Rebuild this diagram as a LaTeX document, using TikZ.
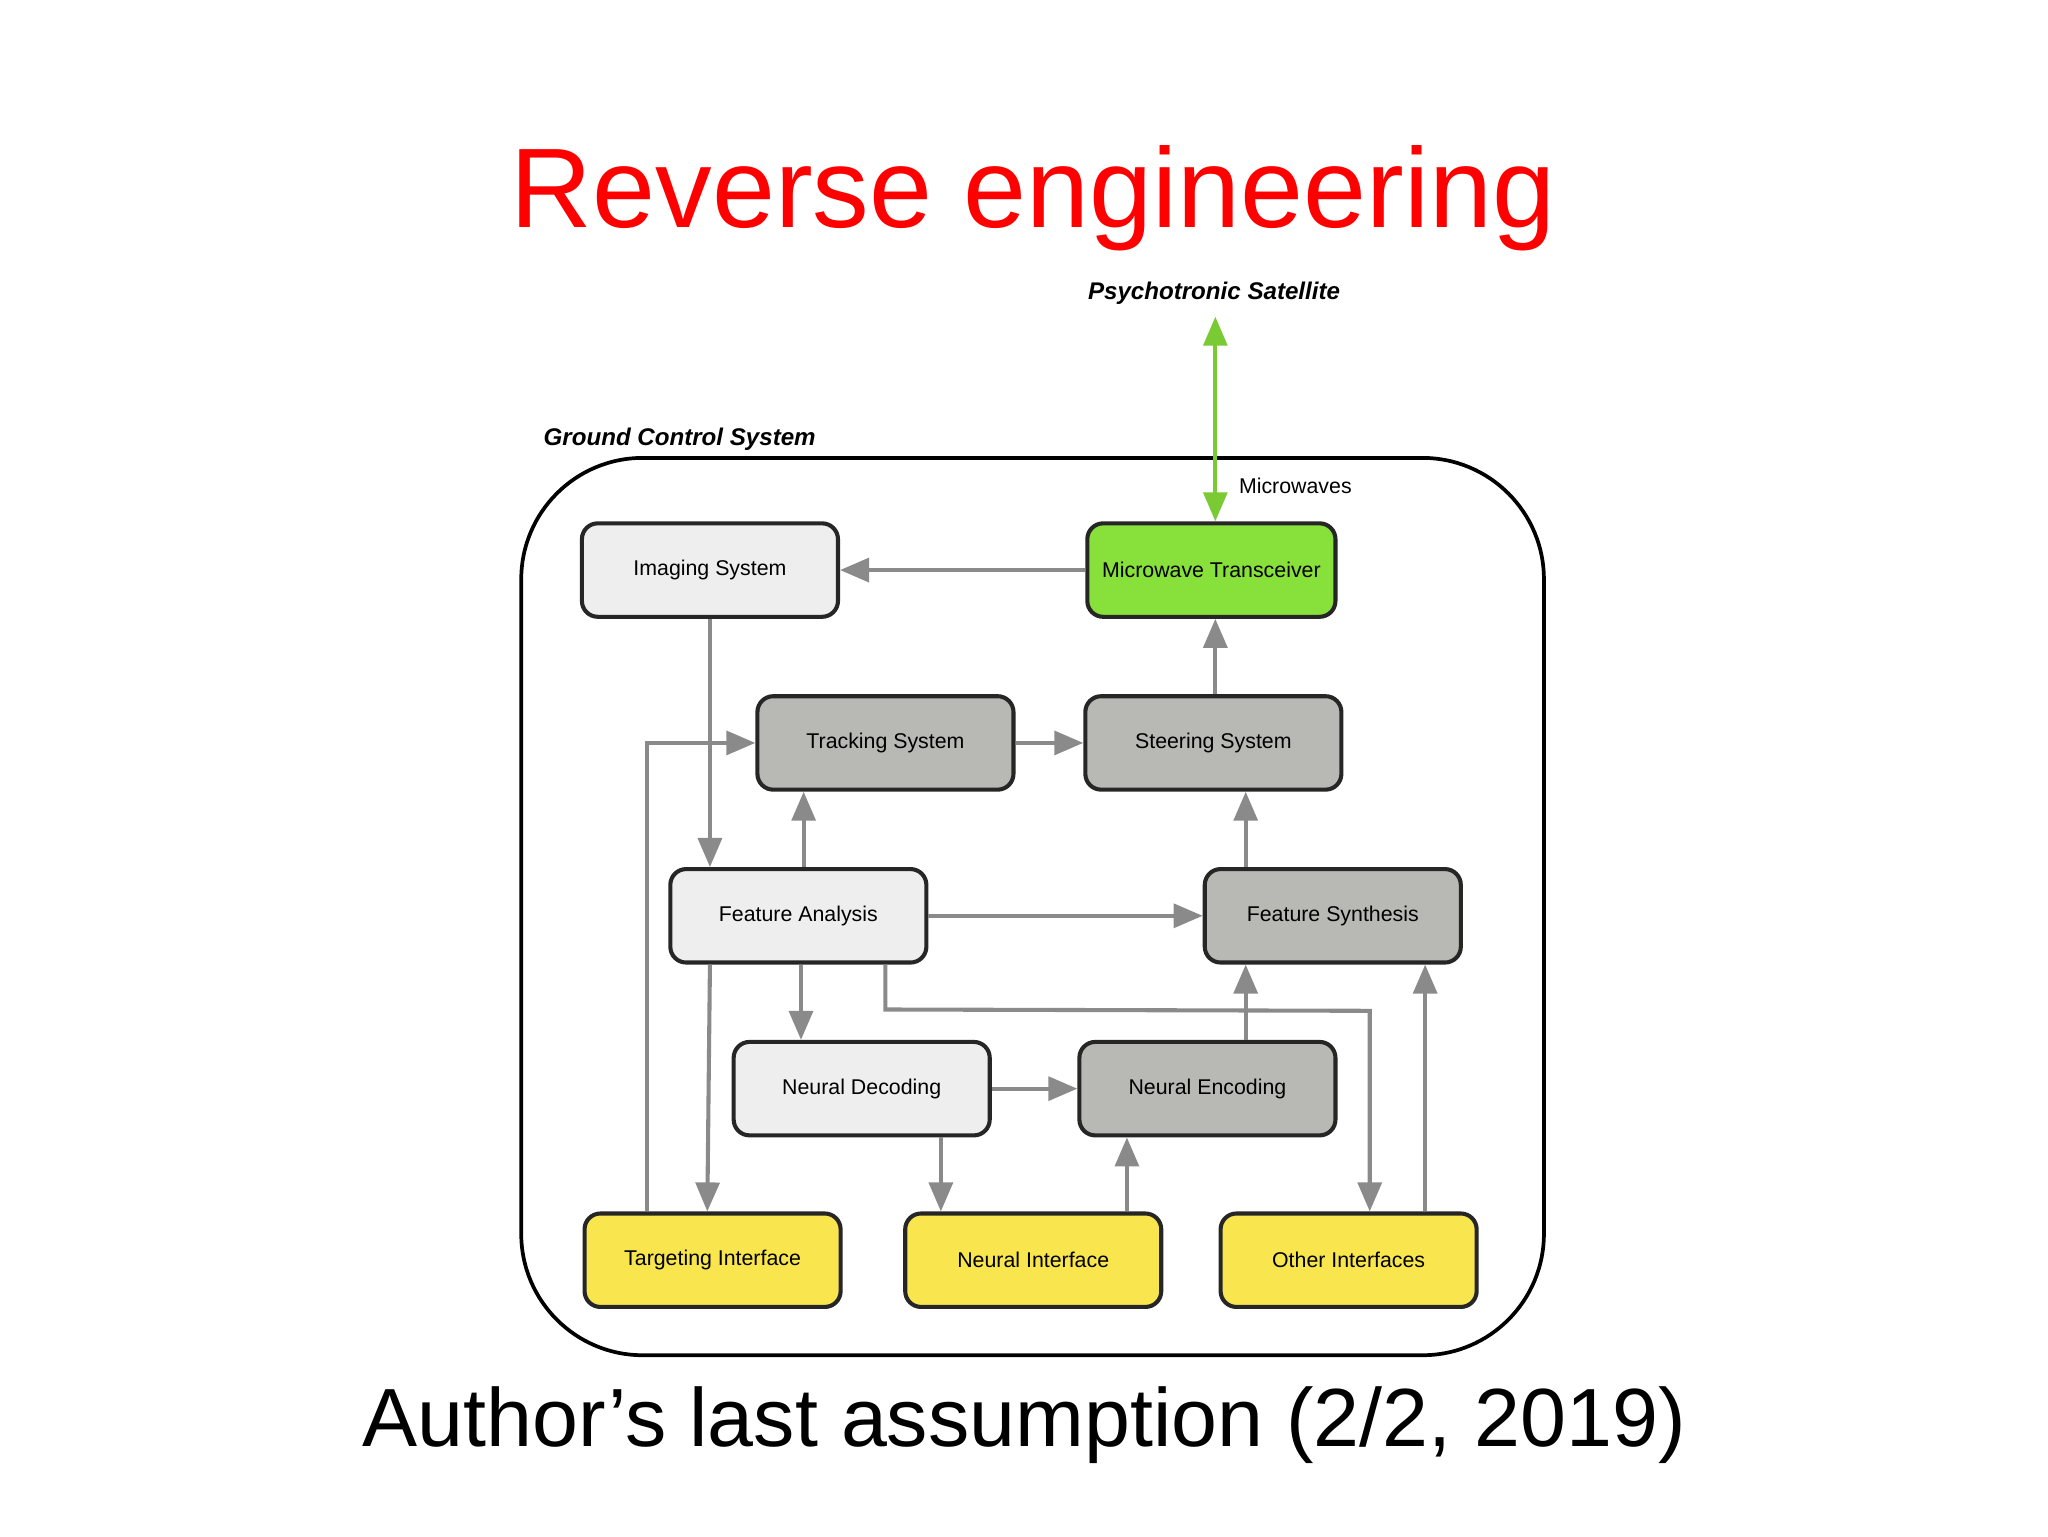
\documentclass[tikz,border=0pt]{standalone}
\usepackage{fontspec}
\setmainfont{Liberation Sans}
\usetikzlibrary{arrows.meta}
\definecolor{lg}{HTML}{EEEEEE}
\definecolor{dg}{HTML}{B8B9B5}
\definecolor{gr}{HTML}{88E03A}
\definecolor{ye}{HTML}{F9E64F}
\definecolor{ar}{HTML}{8A8A8A}
\begin{document}
\begin{tikzpicture}[x=0.025cm,y=-0.025cm,
 box/.style={draw=black!85,line width=2.2pt,rounded corners=0.3cm,minimum width=4.85cm,minimum height=1.77cm,font=\fontsize{11.5}{14}\selectfont,inner sep=0pt},
 con/.style={draw=ar,line width=2.2pt,-{Triangle[length=0.55cm,width=0.45cm]}},
 lbl/.style={font=\fontsize{13}{16}\selectfont\bfseries\itshape}]
\useasboundingbox (0,0) rectangle (1552,1164);
\node[text=red,font=\fontsize{61}{70}\selectfont] (title) at (783,150) {Reverse engineering};
\node[font=\fontsize{44.5}{52}\selectfont] (foot) at (776,1080) {Author’s last assumption (2/2, 2019)};
\draw[line width=2pt,rounded corners=2.3cm] (395,347) rectangle (1170,1027);
\node[lbl,anchor=west] (gcs) at (407,333) {Ground Control System};
\node[lbl] (sat) at (920,222) {Psychotronic Satellite};
\node[box,fill=lg] (img) at (538,432) {Imaging System};
\node[box,fill=gr,minimum width=4.7cm] (mt) at (918,432) {Microwave Transceiver};
\node[box,fill=dg] (tr) at (671,563) {Tracking System};
\node[box,fill=dg] (st) at (919.5,563) {Steering System};
\node[box,fill=lg] (fa) at (605,694) {Feature Analysis};
\node[box,fill=dg] (fs) at (1010,694) {Feature Synthesis};
\node[box,fill=lg] (nd) at (653,825) {Neural Decoding};
\node[box,fill=dg] (ne) at (915,825) {Neural Encoding};
\node[box,fill=ye] (ti) at (540,955) {Targeting Interface};
\node[box,fill=ye] (ni) at (783,955) {Neural Interface};
\node[box,fill=ye] (oi) at (1022,955) {Other Interfaces};
\coordinate (satp) at (921,240);
\draw[draw=gr!90!black,line width=2.2pt,{Triangle[length=0.55cm,width=0.45cm]}-{Triangle[length=0.55cm,width=0.45cm]}] (satp) -- (satp |- mt.north);
\node[anchor=west,font=\fontsize{11.5}{14}\selectfont] (mw) at (934,368) {Microwaves};
\draw[con] (mt.west) -- (img.east);
\draw[con] (img.south) -- (img.south |- fa.north);
\draw[con] ([xshift=0.075cm]mt.south |- st.north) -- ([xshift=0.075cm]mt.south);
\draw[con] (tr.east) -- (st.east -| st.west);
\draw[con] ([xshift=0.1cm]fa.north) -- ([xshift=0.1cm]fa.north |- tr.south);
\draw[con] (fa.east) -- (fs.west);
\draw[con] (944,0 |- fs.north) -- (944,0 |- st.south);
\draw[con] ([xshift=0.05cm]fa.south) -- ([xshift=0.05cm]fa.south |- nd.north);
\draw[con] (538,0 |- fa.south) -- (536,0 |- ti.north);
\draw[con] (671,0 |- fa.south) -- (671,765) -- (1038,766) -- (1038,0 |- oi.north);
\draw[con] (nd.east) -- (ne.west);
\draw[con] (944,0 |- ne.north) -- (944,0 |- fs.south);
\draw[con] (713,0 |- nd.south) -- (713,0 |- ni.north);
\draw[con] (854,0 |- ni.north) -- (854,0 |- ne.south);
\draw[con] (1080,0 |- oi.north) -- (1080,0 |- fs.south);
\draw[con] (490,0 |- ti.north) -- (490,563) -- (tr.west);
\end{tikzpicture}
\end{document}
